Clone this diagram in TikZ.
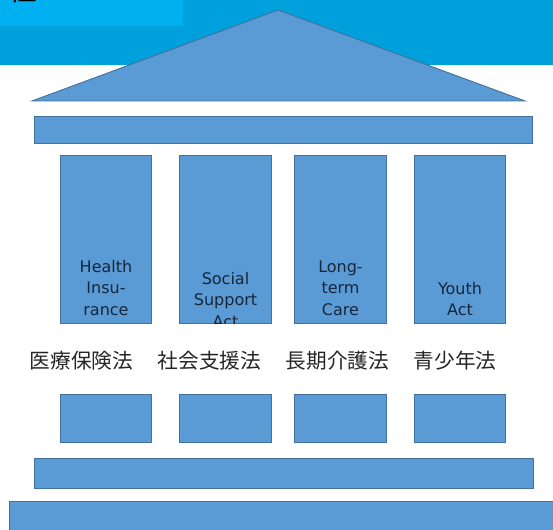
\documentclass[tikz,border=0pt]{standalone}
\usepackage{fontspec}
\newfontfamily\pillarfont{DejaVu Sans}
\newfontfamily\jpfont{Noto Sans CJK JP}
\definecolor{bandblue}{HTML}{00A0DC}
\definecolor{boxblue}{HTML}{00B0F0}
\definecolor{stoneblue}{HTML}{5B9BD5}
\definecolor{edgeblue}{HTML}{41719C}
\definecolor{inkblue}{HTML}{17263A}

\begin{document}
\begin{tikzpicture}[x=0.75pt,y=0.75pt]
    \tikzstyle{stone}=[draw=edgeblue, fill=stoneblue, line width=0.7pt]
    \tikzstyle{pillar}=[
      stone,
      rectangle,
      inner sep=0pt,
      minimum width=68.6pt,
      minimum height=126pt,
    ]
    \tikzstyle{plinth}=[
      pillar,
      minimum height=36pt,
    ]
    \tikzstyle{slab}=[
      stone,
      rectangle,
      inner sep=0pt,
    ]
    \tikzstyle{pillarlabel}=[
      align=center,
      inner sep=0pt,
      text=inkblue,
      font=\pillarfont\fontsize{12}{16}\selectfont,
    ]
    \tikzstyle{lawname}=[
      inner sep=0pt,
      text=black!85,
      font=\jpfont\fontsize{15.5}{18}\selectfont,
    ]

    \useasboundingbox (0,0) rectangle (553,530);
    \clip (0,0) rectangle (553,530);

    % header band
    {
      \fill[bandblue] (0,465) rectangle (553,530);
      \fill[boxblue] (0,503.5) rectangle (183,530);
      \node[anchor=base west, inner sep=0pt, font=\jpfont\fontsize{21}{24}\selectfont] (headtitle) at (9,529) {性};
    }

    % roof
    {
      \draw[stone] (32,429) -- (278,520) -- (525,429) -- cycle;
      \node[slab, minimum width=373.5pt, minimum height=20.25pt] (beam) at (283,400.5) {};
    }

    % pillars
    {
      \node[pillar] (health) at (106,291) {};
      \node[pillar] (social) at (225.5,291) {};
      \node[pillar] (care) at (340.5,291) {};
      \node[pillar] (youth) at (460,291) {};

      \begin{scope}
        \clip (health.south west) rectangle (health.north east);
        \node[pillarlabel] (healthtext) at (106,242) {Health\\Insu-\\rance};
      \end{scope}
      \begin{scope}
        \clip (social.south west) rectangle (social.north east);
        \node[pillarlabel] (socialtext) at (225.5,230) {Social\\Support\\Act};
      \end{scope}
      \begin{scope}
        \clip (care.south west) rectangle (care.north east);
        \node[pillarlabel] (caretext) at (340.5,242) {Long-\\term\\Care};
      \end{scope}
      \begin{scope}
        \clip (youth.south west) rectangle (youth.north east);
        \node[pillarlabel] (youthtext) at (460,231) {Youth\\Act};
      \end{scope}
    }

    % law names
    {
      \node[lawname] (healthlaw) at (81.5,169) {医療保険法};
      \node[lawname] (sociallaw) at (209.5,169) {社会支援法};
      \node[lawname] (carelaw) at (337.5,169) {長期介護法};
      \node[lawname] (youthlaw) at (455,169) {青少年法};
    }

    % pillar feet
    {
      \node[plinth] (healthfoot) at (106,112) {};
      \node[plinth] (socialfoot) at (225.5,112) {};
      \node[plinth] (carefoot) at (340.5,112) {};
      \node[plinth] (youthfoot) at (460,112) {};
    }

    % base
    {
      \node[slab, minimum width=374.25pt, minimum height=22.5pt] (stylobate) at (283.5,57) {};
      \draw[stone] (9,-5) rectangle (560,29);
    }
\end{tikzpicture}
\end{document}
